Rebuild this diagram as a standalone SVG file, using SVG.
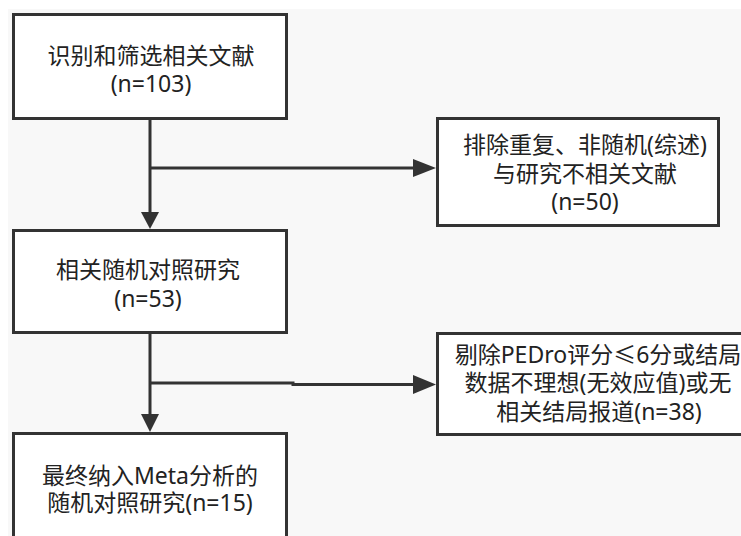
<svg xmlns="http://www.w3.org/2000/svg" width="741" height="536" viewBox="0 0 741 536">
<style>
.box{fill:#ffffff;stroke:#333333;stroke-width:3}
.t{font-family:"Noto Sans","Noto Sans CJK SC",sans-serif;font-size:23px;fill:#222222;text-anchor:middle}
.c{fill:none;stroke:#333333;stroke-width:3}
.ah{fill:#333333}
</style>
<rect x="0" y="0" width="741" height="536" fill="#ffffff"/>
<rect x="8" y="9" width="733" height="527" fill="#f8f8f8"/>
<g id="connectors">
<path class="c" d="M150 119 V214"/>
<polygon class="ah" points="141,212 159,212 150,229"/>
<path class="c" d="M150 168 H415"/>
<polygon class="ah" points="413,159 413,177 436,168"/>
<path class="c" d="M150 333 V416"/>
<polygon class="ah" points="141,414 159,414 150,432"/>
<path class="c" d="M150 383 H293 V384.5 H415"/>
<polygon class="ah" points="413,375 413,394 436,384.5"/>
</g>
<g id="n1">
<rect class="box" x="13.5" y="14.5" width="273" height="104"/>
<text class="t" x="151" y="64">识别和筛选相关文献</text>
<text class="t" x="151" y="92">(n=103)</text>
</g>
<g id="n2">
<rect class="box" x="437.5" y="118.5" width="281" height="107"/>
<text class="t" x="585" y="153">排除重复、非随机(综述)</text>
<text class="t" x="585" y="182">与研究不相关文献</text>
<text class="t" x="585" y="210">(n=50)</text>
</g>
<g id="n3">
<rect class="box" x="13.5" y="230.5" width="273" height="102"/>
<text class="t" x="148" y="278">相关随机对照研究</text>
<text class="t" x="148" y="307">(n=53)</text>
</g>
<g id="n4">
<rect class="box" x="437.5" y="333.5" width="320" height="101"/>
<text class="t" x="598" y="363">剔除PEDro评分≤6分或结局</text>
<text class="t" x="598" y="391">数据不理想(无效应值)或无</text>
<text class="t" x="599" y="420">相关结局报道(n=38)</text>
</g>
<g id="n5">
<rect class="box" x="13.5" y="433.5" width="273" height="120"/>
<text class="t" x="150" y="484">最终纳入Meta分析的</text>
<text class="t" x="150" y="511">随机对照研究(n=15)</text>
</g>
</svg>
